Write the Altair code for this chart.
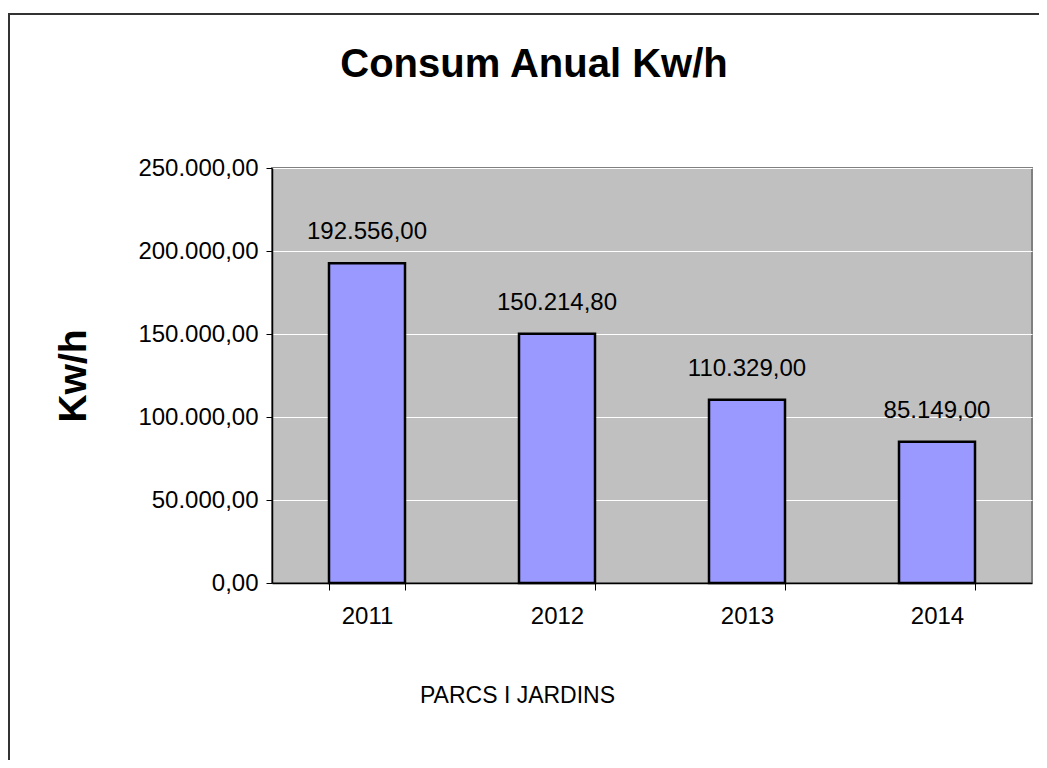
import altair as alt
import pandas as pd

years = ["2011", "2012", "2013", "2014"]
values = [192556.00, 150214.80, 110329.00, 85149.00]
value_labels = ["192.556,00", "150.214,80", "110.329,00", "85.149,00"]
y_ticks = [0, 50000, 100000, 150000, 200000, 250000]
y_tick_labels = ["0,00", "50.000,00", "100.000,00", "150.000,00", "200.000,00", "250.000,00"]
chart_title = "Consum Anual Kw/h"

df = pd.DataFrame({"year": years, "value": values, "label": value_labels})

FONT = "Liberation Sans"

label_expr = ""
for t, l in zip(y_ticks, y_tick_labels):
    label_expr += f"datum.value == {t} ? '{l}' : "
label_expr += "''"

x_enc = alt.X(
    "year:N",
    sort=years,
    scale=alt.Scale(paddingInner=0.6, paddingOuter=0.3),
    axis=alt.Axis(
        title="PARCS I JARDINS",
        titleFont=FONT, titleFontSize=23, titleFontWeight="normal", titleColor="black",
        titleX=245, titleY=112, titleAlign="center", titleBaseline="middle",
        labelFont=FONT, labelFontSize=24, labelColor="black", labelAngle=0,
        labelPadding=14,
        tickBand="extent", tickSize=7, tickColor="black", tickWidth=1,
        domainColor="black", domainWidth=1.5, grid=False,
    ),
)

y_enc = alt.Y(
    "value:Q",
    scale=alt.Scale(domain=[0, 250000], nice=False),
    axis=alt.Axis(
        values=y_ticks, labelExpr=label_expr,
        title="Kw/h", titleFont=FONT, titleFontSize=39, titleFontWeight="bold", titleColor="black",
        titleX=-199, titleY=207.5, titleAngle=-90, titleAlign="center", titleBaseline="middle",
        labelFont=FONT, labelFontSize=24, labelColor="black", labelPadding=8,
        tickSize=6, tickColor="black", tickWidth=1,
        domainColor="black", domainWidth=1.5,
        grid=True, gridColor="white", gridWidth=1,
    ),
)

bars = alt.Chart(df).mark_bar(
    color="#9999FF", stroke="black", strokeWidth=2.5
).encode(x=x_enc, y=y_enc)

texts = alt.Chart(df).mark_text(
    font=FONT, fontSize=24, color="black", baseline="alphabetic", dy=-24
).encode(x=alt.X("year:N", sort=years), y="value:Q", text="label:N")

one = pd.DataFrame({"t": [chart_title]})

frame = alt.Chart(one).mark_rect(
    fillOpacity=0, stroke="#333333", strokeWidth=2
).encode(
    x=alt.value(-263), x2=alt.value(800),
    y=alt.value(-154), y2=alt.value(640),
)

title = alt.Chart(one).mark_text(
    font=FONT, fontSize=40, fontWeight="bold", color="black",
    align="center", baseline="alphabetic",
).encode(x=alt.value(262), y=alt.value(-91), text="t:N")

chart = alt.layer(frame, bars, texts, title).properties(
    width=760, height=415,
    autosize=alt.AutoSizeParams(type="none"),
    padding={"left": 264, "top": 160, "right": 7, "bottom": 177},
).configure_view(
    fill="#C0C0C0", stroke="#808080", strokeWidth=2
)

chart.save("out.html", embed_options={"renderer": "svg", "actions": False})
